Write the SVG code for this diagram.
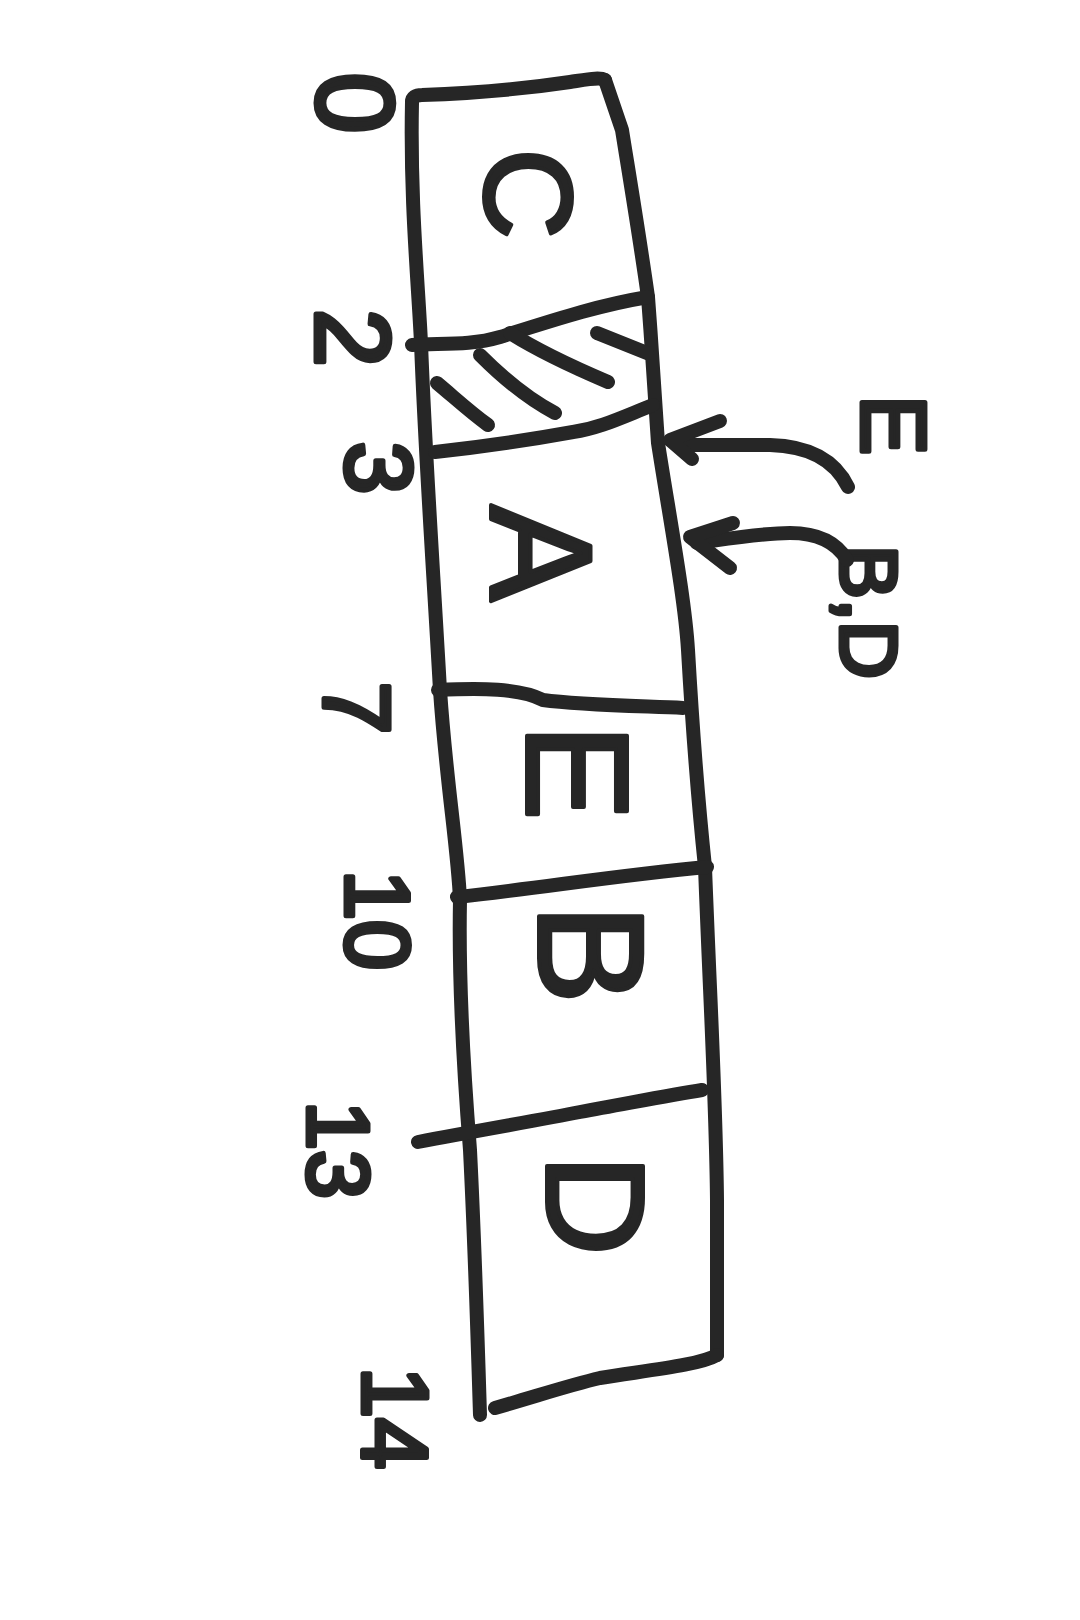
<svg xmlns="http://www.w3.org/2000/svg" width="1080" height="1620" viewBox="0 0 1080 1620">
<style>
.ink{fill:none;stroke:#262626;stroke-width:14px;stroke-linecap:round;stroke-linejoin:round}
.t{font-family:"Liberation Sans",Arial,sans-serif;fill:#262626;stroke:#262626;stroke-width:4px;stroke-linejoin:round;text-anchor:middle;dominant-baseline:central}
.s{stroke-width:5px}
</style>
<rect width="1080" height="1620" fill="#ffffff"/>
<g id="strip">
<path class="ink" d="M412,102 Q412,95 422,95 C480,93 530,88 570,82 C590,79 600,77 605,80"/>
<path class="ink" d="M605,80 L622,130 C630,180 640,240 648,297 C652,350 656,410 658,443 C670,520 685,600 688,650 C692,720 698,800 705,867 C710,1000 716,1100 717,1200 L717,1355"/>
<path class="ink" d="M412,102 C410,200 418,280 421,343 C425,450 432,550 440,690 C446,780 458,850 460,900 C458,1000 466,1100 470,1150 C475,1250 478,1350 480,1415"/>
<path class="ink" d="M495,1408 C540,1395 570,1385 600,1378 C650,1370 700,1365 717,1355"/>
</g>
<g id="dividers">
<path class="ink" d="M412,345 C440,343 470,346 500,337 C560,318 600,305 648,297"/>
<path class="ink" d="M435,452 C480,447 540,438 573,432 C600,428 620,418 653,405"/>
<path class="ink" d="M438,690 C480,688 520,688 543,700 C580,705 640,706 683,708"/>
<path class="ink" d="M457,897 C540,888 620,875 707,867"/>
<path class="ink" d="M418,1142 C480,1130 540,1120 580,1112 C630,1103 670,1095 702,1090"/>
</g>
<g id="cell-hatch">
<path class="ink" d="M597,333 L647,353"/>
<path class="ink" d="M510,333 C540,352 575,368 608,382"/>
<path class="ink" d="M480,355 C505,380 530,400 555,413"/>
<path class="ink" d="M437,383 C455,398 470,412 488,425"/>
</g>
<g id="cell-C"><text class="t" font-size="125" transform="translate(528,194) rotate(90)">C</text></g>
<g id="cell-A"><text class="t" font-size="145" transform="translate(541,553) rotate(90)">A</text></g>
<g id="cell-E"><text class="t" font-size="145" transform="translate(577,772) rotate(90)">E</text></g>
<g id="cell-B"><text class="t" font-size="150" transform="translate(591,954) rotate(90)">B</text></g>
<g id="cell-D"><text class="t" font-size="140" transform="translate(595,1205) rotate(90)">D</text></g>
<g id="ticks">
<text class="t s" font-size="110" transform="translate(355,103) rotate(90)">0</text>
<text class="t s" font-size="105" transform="translate(352,338) rotate(90)">2</text>
<text class="t s" font-size="95" transform="translate(379,468) rotate(90)">3</text>
<text class="t s" font-size="95" transform="translate(357,708) rotate(90)">7</text>
<text class="t s" font-size="90" transform="translate(377,920) rotate(90)">10</text>
<text class="t s" font-size="88" transform="translate(338,1150) rotate(90)">13</text>
<text class="t s" font-size="92" transform="translate(395,1418) rotate(90)">14</text>
</g>
<g id="label-E"><text class="t s" font-size="90" transform="translate(893,425) rotate(90)">E</text></g>
<g id="label-BD"><text class="t s" font-size="80" transform="translate(868,612) rotate(90)">B,D</text></g>
<g id="connectors">
<path class="ink" d="M848,487 C835,460 810,446 770,445 L687,445"/>
<path class="ink" d="M720,421 L670,440 L692,459"/>
<path class="ink" d="M847,560 C835,540 815,533 790,533 C760,533 720,540 697,543"/>
<path class="ink" d="M733,523 L690,537 L730,568"/>
</g>
</svg>
